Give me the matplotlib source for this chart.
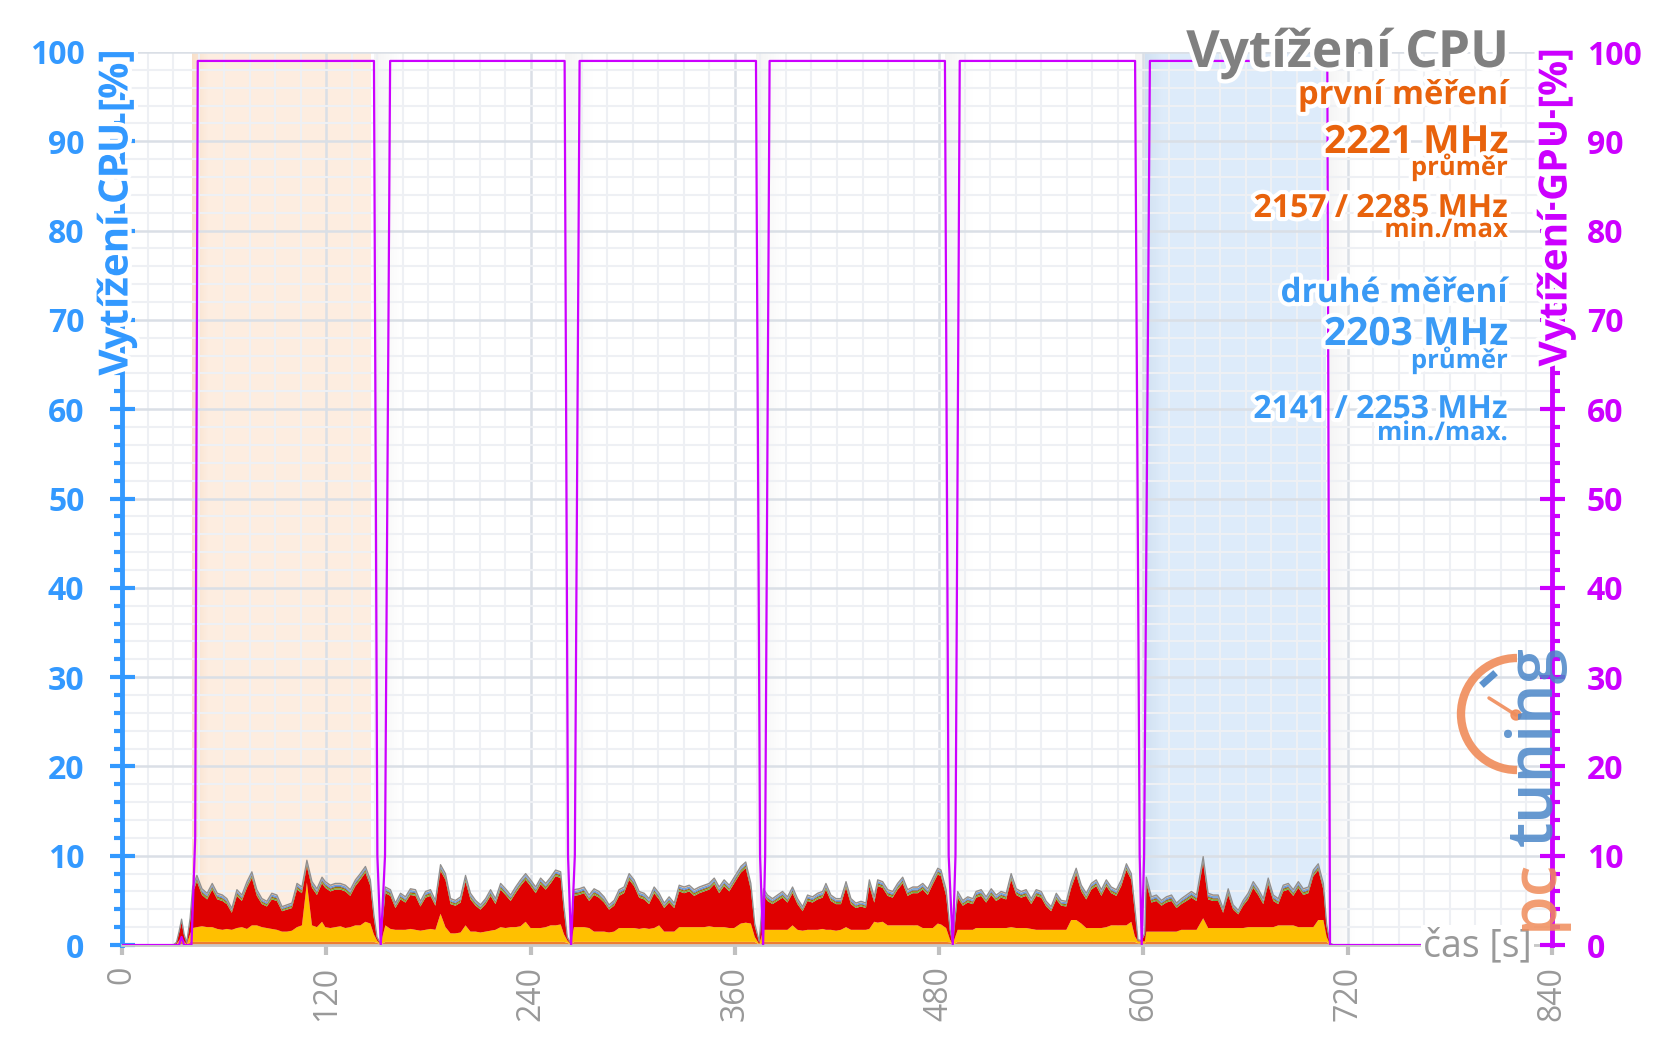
import numpy as np
import matplotlib
matplotlib.use("Agg")
import matplotlib.pyplot as plt
from matplotlib import patheffects as pe
from matplotlib.patches import Arc, Circle

plt.rcParams['font.family'] = ['Open Sans', 'DejaVu Sans']

# ---------------- data ----------------
cpu_t = [
    0, 30, 32, 33.5, 35, 36.5, 38, 40, 41.5, 44,
    47, 50, 53, 56, 59, 61.6, 64.5, 67.5, 70.4, 73.4, 76.3, 79.2, 82.2, 85.1, 88, 91, 94, 96.9, 99.8, 102.8, 105.7, 108.6, 111.6, 114.5, 117.5,
    119.4, 122.4, 125.3, 128.3, 131.2, 134.1, 137.1, 140, 143, 145.9, 147.9, 149.8, 151.8,
    154.7, 157.7, 160.6, 163.6, 166.5, 169.4, 172.4, 175.3, 178.3, 181.2, 184.1, 187.1, 190, 193, 195.9, 198.9, 201.8, 204.7, 207.7, 210.6, 213.6, 216.5, 219.4, 222.4, 225.3, 228.3, 231.2, 234.1, 237.1,
    240, 243, 245.9, 248.9, 251.8, 254.7, 257.7, 259.6, 261.6, 263.6,
    265.5, 268.5, 271.4, 274.4, 277.3, 280.2, 283.2, 286.1, 289.1, 292, 294.9, 297.9, 300.8, 303.8, 306.7, 309.6, 312.6, 315.5, 318.5, 321.4, 324.4, 327.3, 330.2, 333.2, 336.1, 339.1, 342, 344.9, 347.9, 350.8, 353.7, 356.7, 359.6,
    363.5, 366.4, 369.4, 371.7, 374.3,
    376.8, 379.2, 382.1, 385, 388, 390.9, 393.9, 396.8, 399.8, 402.7, 405.6, 408.6, 411.5, 413.5, 416.4, 419.4, 422.3, 425.3, 428.2, 431.1, 434.1, 437, 439, 441.9, 443.9, 446.8, 449.8, 452.7, 455.6, 458.6, 461.5, 464.5, 467.4, 470.4, 473.3, 476.3, 479.2,
    481.1, 484.1, 486.4, 488,
    490.9, 493.9, 496.8, 499.8, 501.7, 504.7, 507.6, 510.6, 513.5, 516.4, 519.4, 522.3, 525.3, 528.2, 531.1, 534.1, 537, 540, 542.9, 545.8, 548.8, 551.7, 554.7, 557.6, 560.5, 563.5, 566.4, 569.4, 572.3, 575.3, 578.2, 581.1, 584.1, 587, 590, 592.9, 594.9, 596.8, 598.8, 600.8,
    601.7, 604.7, 607.6, 610.6, 613.5, 616.5, 619.4, 622.3, 625.3, 628.2, 631.2, 635.1, 638, 641, 643.9, 646.8, 649.8, 652.7, 655.7, 658.6, 661.5, 664.5, 667.4, 670.4, 673.3, 676.3, 679.2, 682.1, 685.1, 688, 691, 693.9, 696.9, 699.8, 702.7, 705.7, 707.6, 709.6, 712, 765,
]
# total CPU load (top outline of the stack), %
cpu_total = [
    0, 0, 0.3, 1.5, 2.9, 1.2, 0.3, 3.0, 6.5, 7.8,
    6.3, 5.8, 6.9, 5.8, 5.6, 5.2, 4.1, 6.2, 5.6, 7.1, 8.2, 6.2, 5.2, 4.9, 5.8, 5.6, 4.3, 4.5, 4.7, 6.9, 6.5, 9.5, 7.1, 6.3, 7.6,
    7.1, 6.7, 6.9, 6.9, 6.7, 6.2, 7.3, 8.0, 8.8, 7.3, 3.5, 0.9, 0.2,
    6.5, 6.2, 4.7, 5.8, 5.4, 6.3, 6.2, 4.9, 6.0, 6.2, 5.0, 9.0, 8.0, 5.2, 5.0, 5.4, 7.8, 5.8, 5.0, 4.5, 5.2, 6.2, 5.2, 6.9, 6.3, 5.6, 6.5, 7.3, 8.0,
    7.3, 6.5, 7.5, 6.9, 7.6, 8.4, 8.2, 4.3, 0.9, 0.2,
    6.2, 6.3, 6.5, 5.6, 6.3, 6.0, 5.4, 4.5, 5.0, 6.2, 6.5, 8.0, 7.3, 6.0, 5.8, 5.2, 6.5, 5.8, 4.7, 5.4, 4.7, 6.7, 6.5, 6.7, 6.2, 6.5, 6.7, 6.9, 7.5, 6.5, 7.3, 6.7, 7.6,
    8.8, 9.3, 6.9, 2.4, 0.4,
    6.3, 5.6, 5.2, 5.6, 6.0, 5.4, 6.5, 5.2, 4.3, 5.6, 5.4, 5.8, 6.0, 6.9, 5.6, 5.2, 5.2, 7.1, 5.2, 4.7, 4.9, 4.7, 7.3, 5.4, 7.3, 7.1, 6.2, 6.0, 6.9, 7.6, 6.2, 6.5, 6.5, 6.9, 6.3, 7.5, 8.6,
    8.4, 6.2, 1.7, 0.2,
    6.0, 5.0, 5.4, 5.2, 6.0, 6.2, 5.4, 6.3, 5.6, 6.0, 5.8, 8.0, 6.3, 6.0, 6.2, 5.2, 6.2, 6.0, 4.9, 4.3, 5.8, 5.0, 4.9, 7.1, 8.6, 6.7, 5.8, 6.9, 7.3, 6.2, 7.3, 6.5, 6.2, 7.3, 9.1, 8.0, 4.3, 0.6, 0.5, 1.3,
    7.6, 5.4, 5.6, 5.0, 5.4, 5.6, 4.7, 5.2, 5.6, 6.0, 5.6, 9.9, 5.8, 5.6, 5.6, 4.1, 6.3, 4.5, 3.9, 5.0, 5.8, 7.1, 6.3, 5.2, 7.5, 5.6, 5.2, 6.7, 6.9, 6.2, 7.1, 6.3, 6.5, 8.4, 9.1, 6.9, 2.4, 0.2, 0, 0,
]
# top of the yellow layer (incl. orange base), %
cpu_yellow = [
    0, 0, 0.1, 0.5, 0.8, 0.4, 0.1, 1.2, 1.9, 2.0,
    2.1, 2.0, 2.0, 1.8, 1.7, 1.8, 1.7, 1.9, 2.0, 1.8, 2.2, 2.2, 2.0, 1.9, 1.8, 1.7, 1.5, 1.5, 1.6, 2.0, 2.2, 7.0, 2.2, 2.0, 2.6,
    2.0, 1.9, 2.0, 2.1, 1.9, 2.0, 2.2, 2.2, 2.6, 2.4, 1.2, 0.5, 0.1,
    2.2, 1.8, 1.7, 1.7, 1.7, 1.8, 1.7, 1.6, 1.7, 1.8, 1.7, 3.5, 2.0, 1.3, 1.3, 1.4, 2.2, 1.5, 1.5, 1.4, 1.5, 1.6, 1.7, 2.0, 1.9, 2.0, 2.0, 2.1, 2.6,
    1.9, 1.9, 1.9, 2.0, 2.2, 2.2, 2.3, 1.2, 0.5, 0.1,
    2.0, 2.0, 2.0, 1.9, 1.5, 1.5, 1.5, 1.4, 1.5, 1.9, 1.9, 1.9, 1.9, 1.8, 1.9, 1.8, 1.9, 2.2, 1.5, 1.5, 1.5, 2.0, 2.0, 2.0, 2.0, 2.0, 2.0, 2.1, 2.0, 2.0, 2.0, 1.9, 1.9,
    2.4, 2.5, 2.4, 0.9, 0.1,
    1.7, 1.7, 1.7, 1.7, 1.7, 1.7, 2.2, 1.7, 1.6, 1.7, 1.7, 1.7, 1.8, 1.7, 1.7, 1.6, 1.7, 2.0, 1.7, 1.7, 1.7, 1.7, 1.8, 2.6, 2.5, 2.6, 2.2, 2.2, 2.2, 2.2, 2.2, 2.2, 2.2, 1.9, 1.9, 1.9, 2.4,
    2.3, 1.9, 0.6, 0.1,
    1.7, 1.7, 1.7, 1.7, 1.9, 1.9, 1.9, 1.9, 1.9, 1.9, 1.9, 2.0, 1.9, 1.9, 1.9, 1.8, 1.7, 1.7, 1.7, 1.7, 1.7, 1.7, 1.7, 2.8, 2.8, 2.4, 1.9, 1.9, 1.9, 1.9, 2.0, 2.2, 2.2, 2.2, 2.2, 2.6, 1.0, 0.4, 0.4, 0.4,
    1.5, 1.5, 1.5, 1.5, 1.5, 1.5, 1.5, 1.7, 1.7, 1.7, 1.7, 3.0, 1.9, 1.9, 1.9, 1.9, 1.9, 1.9, 1.9, 1.9, 2.0, 2.0, 2.0, 2.0, 2.0, 2.0, 2.2, 2.2, 2.2, 2.2, 2.0, 2.0, 2.0, 2.0, 2.8, 2.8, 0.9, 0.1, 0, 0,
]

gpu_t = [0, 33.5, 35, 36.5, 40.8, 43, 44.5,
         148, 150, 152, 154.5, 157.5,
         260, 262, 263.8, 266, 268.8,
         372.4, 374.8, 376.6, 377.8, 380.4,
         483.4, 485.6, 488, 489.6, 492.1,
         595.1, 597.8, 599, 600.4, 603.8,
         708, 709.6, 765]
gpu_load = [0, 0, 0.9, 0, 0, 12, 99,
            99, 10, 0, 10, 99,
            99, 10, 0, 10, 99,
            99, 10, 0, 10, 99,
            99, 10, 0, 10, 99,
            99, 10, 0, 10, 99,
            99, 0, 0]

run1_span = (41, 146.5)
run2_span = (601, 707.5)
gap_starts = [148, 260.5, 372.5, 483.5, 595, 708]

x_ticks = [0, 120, 240, 360, 480, 600, 720, 840]
y_ticks = [0, 10, 20, 30, 40, 50, 60, 70, 80, 90, 100]

title = 'Vytížení CPU'
ylabel_left = 'Vytížení CPU [%]'
ylabel_right = 'Vytížení GPU [%]'
xlabel = 'čas [s]'
run1_lines = ['první měření', '2221 MHz', 'průměr', '2157 / 2285 MHz', 'min./max']
run2_lines = ['druhé měření', '2203 MHz', 'průměr', '2141 / 2253 MHz', 'min./max.']

assert len(cpu_t) == len(cpu_total) == len(cpu_yellow), (len(cpu_t), len(cpu_total), len(cpu_yellow))
assert len(gpu_t) == len(gpu_load)

# ---------------- style ----------------
BLUE = '#3399FF'
MAG = '#CC00FF'
ORANGE_T = '#E8620C'
BLUE_T = '#3A9AF5'
GRAYT = '#999999'

W, H = 1654, 1043
fig = plt.figure(figsize=(W / 100, H / 100), dpi=100)
L, R, T, B = 122, 1552, 52, 945
ax = fig.add_axes([L / W, 1 - B / H, (R - L) / W, (B - T) / H])
ax.set_xlim(0, 840)
ax.set_ylim(0, 100)

# background spans
ax.axvspan(*run1_span, color='#FDEDE0', zorder=0.1, lw=0)
ax.axvspan(*run2_span, color='#DDEBFA', zorder=0.1, lw=0)


def grad(x0, w, rgb, amax):
    arr = np.zeros((2, 60, 4))
    arr[..., 0], arr[..., 1], arr[..., 2] = rgb
    arr[..., 3] = np.linspace(amax, 0, 60)[None, :]
    ax.imshow(arr, extent=[x0, x0 + w, 0, 100], aspect='auto', zorder=0.2,
              interpolation='bilinear')


grad(run1_span[0], 9, (0.96, 0.82, 0.70), 0.5)
grad(run2_span[0], 9, (0.75, 0.85, 0.96), 0.5)
for g in gap_starts:
    grad(g, 16, (0.88, 0.88, 0.88), 0.35)

ax.set_xlim(0, 840)
ax.set_ylim(0, 100)

# grid
ax.set_xticks(x_ticks)
ax.set_xticks(np.arange(0, 841, 15), minor=True)
ax.set_yticks(y_ticks)
ax.set_yticks(np.arange(0, 101, 2), minor=True)
ax.set_axisbelow(True)
ax.grid(True, which='minor', color='#EEF0F4', lw=1.5)
ax.grid(True, which='major', color='#DADFE6', lw=1.8)

# CPU stack
t = np.array(cpu_t)
tot = np.array(cpu_total)
yel = np.array(cpu_yellow)
other = np.minimum(0.7, 0.12 * tot)
red_top = tot - other
base = np.minimum(0.35, 0.5 * yel)
layers = [base, yel - base, np.clip(red_top - yel, 0, None)]
fracs = [0.22, 0.22, 0.12, 0.26, 0.18]
layers += [other * f for f in fracs]
colors = ['#ED7D31', '#FFC000', '#E00000', '#70AD47', '#9C7400', '#4A4FB0',
          '#6FA3D8', '#F4B183']
ax.stackplot(t, *layers, colors=colors, lw=0, zorder=2)
ax.plot(t, tot, color='#8F8F8F', lw=0.9, zorder=2.5)

# axes styling (left)
for s in ['top', 'right']:
    ax.spines[s].set_visible(False)
ax.spines['left'].set_color(BLUE)
ax.spines['left'].set_linewidth(3.5)
ax.spines['bottom'].set_color('#C8C8C8')
ax.spines['bottom'].set_linewidth(2)
ax.tick_params(axis='y', which='major', direction='inout', length=18, width=3,
               color=BLUE, labelcolor=BLUE, labelsize=23, pad=18)
ax.tick_params(axis='y', which='minor', direction='out', length=6, width=3, color=BLUE)
ax.tick_params(axis='x', which='major', direction='out', length=7, width=3,
               color='#C0C0C0', labelcolor=GRAYT, labelsize=23, pad=8)
ax.tick_params(axis='x', which='minor', length=0)
ax.set_yticklabels([str(v) for v in y_ticks], fontweight='bold')
ax.set_xticklabels([str(v) for v in x_ticks], rotation=90)

# GPU axis
ax2 = ax.twinx()
ax2.set_ylim(0, 100)
ax2.plot(gpu_t, gpu_load, color=MAG, lw=1.6, zorder=3)
for s in ['top', 'left', 'bottom']:
    ax2.spines[s].set_visible(False)
ax2.spines['right'].set_color(MAG)
ax2.spines['right'].set_linewidth(3.5)
ax2.set_yticks(y_ticks)
ax2.set_yticks(np.arange(0, 101, 2), minor=True)
ax2.set_yticklabels([str(v) for v in y_ticks], fontweight='bold')
ax2.tick_params(axis='y', which='major', direction='inout', length=18, width=3,
                color=MAG, labelcolor=MAG, labelsize=23, pad=16)
ax2.tick_params(axis='y', which='minor', direction='out', length=6, width=3, color=MAG)
ax2.set_xlim(0, 840)

# ---------------- overlay (text, logo) ----------------
ov = fig.add_axes([0, 0, 1, 1])
ov.set_xlim(0, W)
ov.set_ylim(H, 0)
ov.axis('off')
ov.patch.set_visible(False)

glow = [pe.withStroke(linewidth=6, foreground='white')]

ov.text(117, 50, ylabel_left, rotation=90, ha='center', va='top', fontsize=29,
        fontweight='bold', color=BLUE, path_effects=glow)
ov.text(1556, 48, ylabel_right, rotation=90, ha='center', va='top', fontsize=28,
        fontweight='bold', color=MAG, path_effects=glow)

ov.text(1509, 67, title, ha='right', va='baseline', fontsize=37, fontweight='bold',
        color='#808080', path_effects=glow)

xr = 1508
specs = [(104, 23.5), (153, 28), (175, 18.5), (217, 23), (237, 18.5)]
for (yb, fs), s in zip(specs, run1_lines):
    ov.text(xr, yb, s, ha='right', va='baseline', fontsize=fs, fontweight='bold',
            color=ORANGE_T, path_effects=glow)
specs2 = [(302, 24), (345, 28), (368, 18.5), (418, 23), (440, 18.5)]
for (yb, fs), s in zip(specs2, run2_lines):
    ov.text(xr, yb, s, ha='right', va='baseline', fontsize=fs, fontweight='bold',
            color=BLUE_T, path_effects=glow)

ov.text(1532, 946, xlabel, ha='right', va='center', fontsize=27, color=GRAYT,
        bbox=dict(boxstyle='square,pad=0.05', fc='white', ec='none'))

# logo
ov.add_patch(Arc((1517, 714), 112, 112, theta1=90, theta2=270, color='#F08C5A',
                 lw=6, alpha=0.9))
ov.plot([1516, 1489], [715, 698], color='#F08C5A', lw=2.5, alpha=0.9,
        solid_capstyle='round')
ov.add_patch(Circle((1516, 715), 5, color='#F08C5A', alpha=0.9))
ov.plot([1484, 1493], [683, 675], color='#4A86C8', lw=5, alpha=0.9)
ov.text(1535, 930, 'pc', rotation=90, ha='center', va='bottom', fontsize=46,
        fontweight='semibold', color='#F08C5A', alpha=0.85)
ov.text(1535, 846, 'tuning', rotation=90, ha='center', va='bottom', fontsize=46,
        fontweight='semibold', color='#4A86C8', alpha=0.85)

fig.savefig('out.png', dpi=100)
